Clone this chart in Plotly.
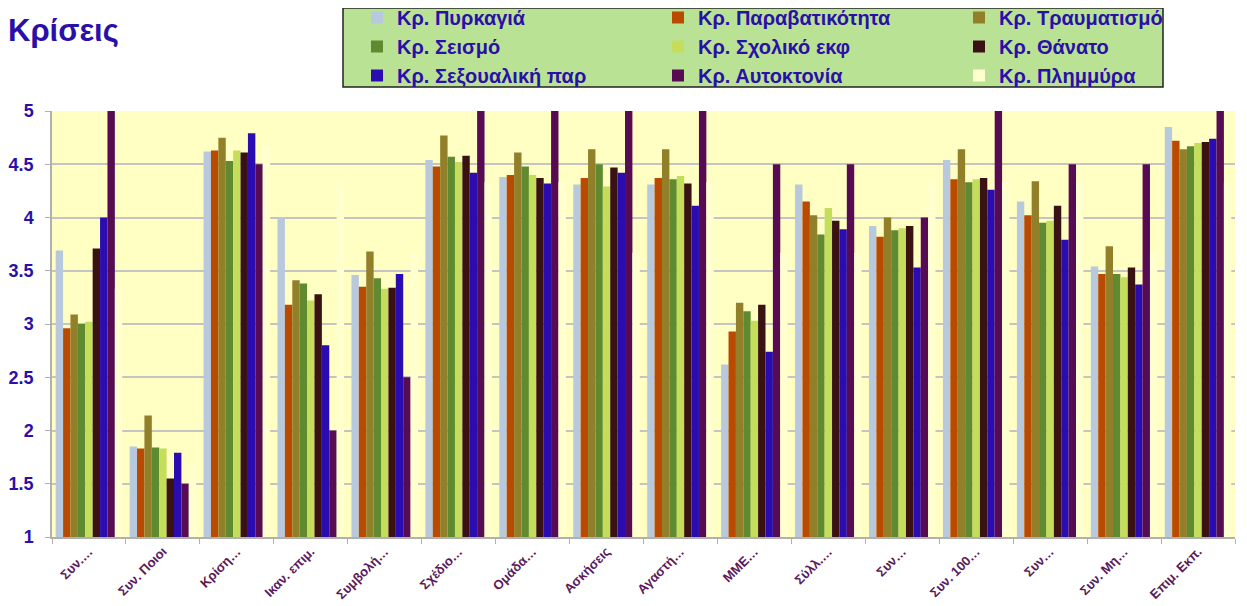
import plotly.graph_objects as go

# categories (x axis)
categories = ["Συν.…", "Συν. Ποιοι", "Κρίση…", "Ικαν. επιμ.", "Συμβολή…", "Σχέδιο…",
              "Ομάδα…", "Ασκήσεις", "Αγαστή…", "ΜΜΕ…", "Σύλλ.…", "Συν…",
              "Συν. 100…", "Συν…", "Συν. Μη…", "Επιμ. Εκπ."]

# series values
pyrkagia      = [3.69, 1.85, 4.62, 4.00, 3.46, 4.54, 4.38, 4.31, 4.31, 2.62, 4.31, 3.92, 4.54, 4.15, 3.54, 4.85]
paravatikotita = [2.96, 1.83, 4.63, 3.18, 3.35, 4.48, 4.40, 4.37, 4.37, 2.93, 4.15, 3.82, 4.36, 4.02, 3.47, 4.72]
travmatismo   = [3.09, 2.14, 4.75, 3.41, 3.68, 4.77, 4.61, 4.64, 4.64, 3.20, 4.02, 4.00, 4.64, 4.34, 3.73, 4.64]
seismo        = [3.00, 1.84, 4.53, 3.38, 3.43, 4.57, 4.48, 4.50, 4.36, 3.12, 3.84, 3.88, 4.33, 3.95, 3.47, 4.67]
sxoliko       = [3.02, 1.83, 4.63, 3.22, 3.33, 4.52, 4.40, 4.29, 4.39, 3.03, 4.09, 3.90, 4.36, 3.97, 3.44, 4.70]
thanato       = [3.71, 1.55, 4.61, 3.28, 3.34, 4.58, 4.37, 4.47, 4.32, 3.18, 3.97, 3.92, 4.37, 4.11, 3.53, 4.71]
sexoualiki    = [4.00, 1.79, 4.79, 2.80, 3.47, 4.42, 4.32, 4.42, 4.11, 2.74, 3.89, 3.53, 4.26, 3.79, 3.37, 4.74]
aftoktonia    = [5.00, 1.50, 4.50, 2.00, 2.50, 5.00, 5.00, 5.00, 5.00, 4.50, 4.50, 4.00, 5.00, 4.50, 4.50, 5.00]
plimmyra      = [3.33, 1.67, 4.67, 4.33, 3.67, 4.33, 4.33, 3.67, 4.33, 3.67, 3.67, 4.33, 4.33, 4.33, 3.67, 4.33]

series = [
    ("Κρ. Πυρκαγιά", pyrkagia, "#B8C8DD"),
    ("Κρ. Παραβατικότητα", paravatikotita, "#B94A00"),
    ("Κρ. Τραυματισμό", travmatismo, "#917F2A"),
    ("Κρ. Σεισμό", seismo, "#5F8A2F"),
    ("Κρ. Σχολικό εκφ", sxoliko, "#C4DD5A"),
    ("Κρ. Θάνατο", thanato, "#3A1213"),
    ("Κρ. Σεξουαλική παρ", sexoualiki, "#2A0CB0"),
    ("Κρ. Αυτοκτονία", aftoktonia, "#560B52"),
    ("Κρ. Πλημμύρα", plimmyra, "#FFFFD0"),
]

xpos = list(range(len(categories)))

# page body adds an 8px offset, so the figure is a bit smaller than the window
W, H = 1239, 598
ML, MR, MT, MB = 44, 12, 103, 69
PW, PH = W - ML - MR, H - MT - MB

def px_x(x):
    return (x - ML) / PW

def px_y(y):
    return 1 + (MT - y) / PH

fig = go.Figure()
for name, vals, col in series:
    fig.add_trace(go.Bar(
        x=xpos,
        y=vals,
        name=name,
        marker_color=col,
        marker_line_width=0,
    ))

# legend box (green panel)
fig.add_shape(type="rect", xref="paper", yref="paper",
              x0=px_x(335), x1=px_x(1155),
              y0=px_y(79), y1=px_y(0),
              fillcolor="#B9E295", line=dict(color="#222222", width=1.5))

fig.update_layout(
    width=W, height=H,
    margin=dict(l=ML, r=MR, t=MT, b=MB, autoexpand=False),
    barmode="group",
    bargap=0.1,
    bargroupgap=0,
    paper_bgcolor="#ffffff",
    plot_bgcolor="#FFFFC4",
    font=dict(family="Liberation Sans, Arial", color="#2A10A8"),
    showlegend=True,
    legend=dict(
        orientation="h",
        x=px_x(349), xanchor="left",
        y=px_y(-10), yanchor="top",
        entrywidth=256, entrywidthmode="pixels",
        bgcolor="rgba(0,0,0,0)",
        font=dict(size=20, color="#2A10A8", family="Liberation Sans, Arial", weight="bold"),
        traceorder="normal",
    ),
    title=dict(
        text="<b>Κρίσεις</b>",
        x=0, xanchor="left", xref="container",
        y=1 - 22 / H, yanchor="middle", yref="container",
        font=dict(size=31, color="#2A10A8", family="Liberation Sans, Arial"),
    ),
)

fig.update_xaxes(
    tickvals=xpos,
    ticktext=categories,
    tickangle=-45,
    ticks="",
    range=[-0.5, len(categories) - 0.5],
    tickfont=dict(size=13, color="#5A1A5A", family="Liberation Sans, Arial", weight="bold"),
    showline=True, linecolor="#B0B0B0", linewidth=1.5,
    showgrid=False,
    minor=dict(tickvals=[i - 0.5 for i in range(len(categories) + 1)],
               ticks="outside", ticklen=5, tickcolor="#B0B0B0", showgrid=False),
)

fig.update_yaxes(
    range=[1, 5],
    tickvals=[1, 1.5, 2, 2.5, 3, 3.5, 4, 4.5, 5],
    ticktext=["1", "1.5", "2", "2.5", "3", "3.5", "4", "4.5", "5"],
    tickfont=dict(size=18, color="#2A10A8", family="Liberation Sans, Arial", weight="bold"),
    ticks="outside", ticklen=5, tickcolor="#B0B0B0",
    ticklabelstandoff=8,
    showline=True, linecolor="#B0B0B0", linewidth=1.5,
    showgrid=True, gridcolor="#C4C4C4", gridwidth=2,
    zeroline=False,
)

fig.write_html("out.html")
